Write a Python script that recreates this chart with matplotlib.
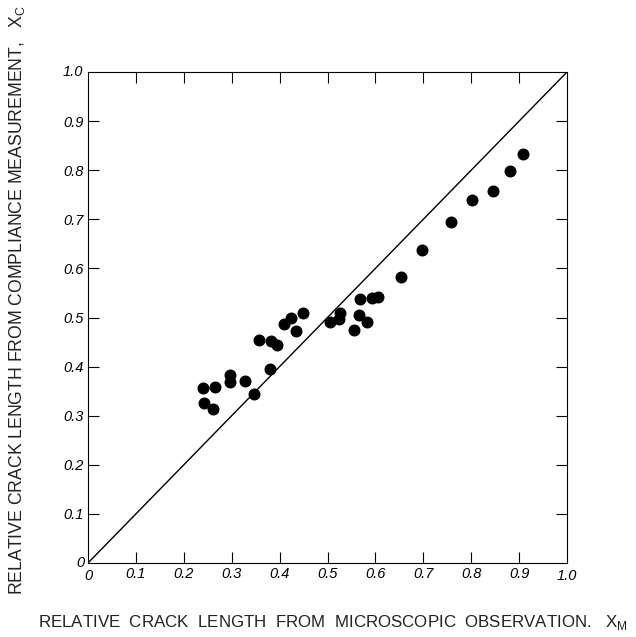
import numpy as np
import matplotlib.pyplot as plt

# relative crack length, microscope (x) vs compliance (y)
x_micro = [0.240, 0.265, 0.243, 0.260, 0.297, 0.296, 0.328, 0.347, 0.356, 0.379,
           0.382, 0.395, 0.409, 0.423, 0.435, 0.448, 0.505, 0.526, 0.523, 0.566,
           0.555, 0.583, 0.568, 0.593, 0.605, 0.653, 0.697, 0.757, 0.801, 0.845,
           0.881, 0.909]
y_comp = [0.356, 0.359, 0.325, 0.313, 0.382, 0.368, 0.371, 0.344, 0.454, 0.395,
          0.453, 0.443, 0.487, 0.500, 0.473, 0.509, 0.491, 0.509, 0.497, 0.505,
          0.475, 0.490, 0.538, 0.540, 0.542, 0.582, 0.638, 0.695, 0.740, 0.757,
          0.798, 0.832]

ticks = [0.1, 0.2, 0.3, 0.4, 0.5, 0.6, 0.7, 0.8, 0.9]
tick_labels = ["0.1", "0.2", "0.3", "0.4", "0.5", "0.6", "0.7", "0.8", "0.9"]

plt.rcParams['font.family'] = ['Liberation Sans', 'DejaVu Sans']

fig = plt.figure(figsize=(6.36, 6.37), dpi=100)
ax = fig.add_axes([88/636, 74/637, 479/636, 491/637])

ax.plot([0, 1], [0, 1], color="black", lw=1.0)
ax.scatter(x_micro, y_comp, s=58, color="black", zorder=3)

ax.set_xlim(0, 1)
ax.set_ylim(0, 1)
ax.set_xticks(ticks)
ax.set_yticks(ticks)
ax.set_xticklabels(tick_labels, style="italic", fontsize=10.5)
ax.set_yticklabels(tick_labels, style="italic", fontsize=10.5)
ax.tick_params(direction="in", length=8, width=0.8, top=True, right=True, pad=3)
for s in ax.spines.values():
    s.set_linewidth(0.8)

# end labels at the corners
ax.text(0, -0.012, "0", style="italic", fontsize=10.5, ha="center", va="top")
ax.text(-0.008, 0.0, "0", style="italic", fontsize=10.5, ha="right", va="center")
ax.text(1.0, -0.012, "1.0", style="italic", fontsize=10.5, ha="center", va="top")
ax.text(-0.01, 1.0, "1.0", style="italic", fontsize=10.5, ha="right", va="center")

fig.text(333/636, 1 - 623/637,
         "RELATIVE  CRACK  LENGTH  FROM  MICROSCOPIC  OBSERVATION.   X$_\\mathregular{M}$",
         fontsize=12.2, ha="center", va="center", color="#222222")
fig.text(17/636, 1 - 300/637,
         "RELATIVE CRACK LENGTH FROM COMPLIANCE MEASUREMENT,   X$_\\mathregular{C}$",
         fontsize=12.7, ha="center", va="center", rotation=90, color="#222222")

fig.savefig("out.png", dpi=100)
